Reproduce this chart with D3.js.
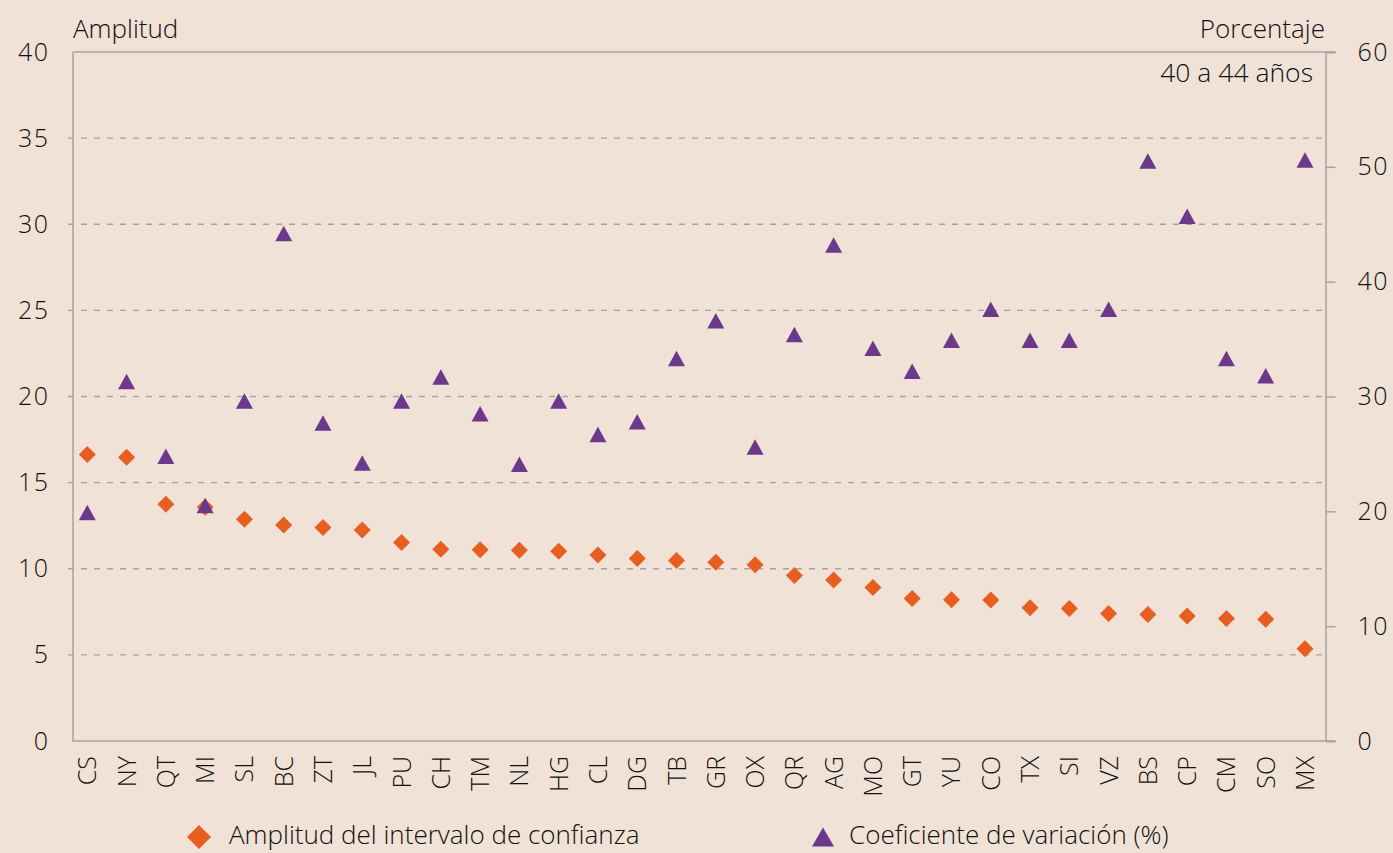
<!DOCTYPE html>
<html>
<head>
<meta charset="utf-8">
<script src="https://cdn.jsdelivr.net/npm/d3@7"></script>
<style>
  body { margin: 0; background: #f0e2d6; }
  text { font-family: "Open Sans", sans-serif; font-weight: 350; fill: #111; }
</style>
</head>
<body>
<div id="chart"></div>
<script>
// Entidades (orden del eje x)
const estados = ["CS","NY","QT","MI","SL","BC","ZT","JL","PU","CH","TM","NL","HG","CL","DG","TB",
                 "GR","OX","QR","AG","MO","GT","YU","CO","TX","SI","VZ","BS","CP","CM","SO","MX"];

// Amplitud del intervalo de confianza (eje izquierdo)
const amplitud = [16.63,16.47,13.75,13.57,12.87,12.54,12.39,12.25,11.53,11.13,11.11,11.08,11.01,10.80,10.60,10.48,
                  10.38,10.23,9.61,9.35,8.91,8.28,8.20,8.19,7.73,7.69,7.40,7.34,7.25,7.11,7.07,5.35];

// Coeficiente de variacion en porcentaje (eje derecho)
const coeficiente = [19.9,31.3,24.8,20.5,29.6,44.2,27.7,24.2,29.6,31.7,28.5,24.1,29.6,26.7,27.8,33.3,
                     36.6,25.6,35.4,43.2,34.2,32.2,34.9,37.6,34.9,34.9,37.6,50.5,45.7,33.3,31.8,50.6];

const ticksIzq = [0,5,10,15,20,25,30,35,40];
const ticksDer = [0,10,20,30,40,50,60];

const width = 1393, height = 853;
const margin = {top: 52, bottom: 741, left: 72.5, right: 1325.5};

const naranja = "#e85d20", morado = "#6b398c", gris = "#a3a3a3";

const svg = d3.select("#chart")
    .append("svg")
    .attr("width", width)
    .attr("height", height)
    .style("background", "#f0e2d6");

// Scales
const xScale = d3.scalePoint()
    .domain(estados)
    .range([87.3, 1305]);

const yLeft = d3.scaleLinear()
    .domain([0, 40])
    .range([margin.bottom, margin.top]);

const yRight = d3.scaleLinear()
    .domain([0, 60])
    .range([margin.bottom, margin.top]);

// Dashed gridlines
svg.append("g")
    .selectAll("line")
    .data(ticksIzq.filter(d => d > 0 && d < 40))
    .enter().append("line")
    .attr("x1", 68)
    .attr("x2", margin.right)
    .attr("y1", d => yLeft(d))
    .attr("y2", d => yLeft(d))
    .attr("stroke", gris)
    .attr("stroke-width", 1.4)
    .attr("stroke-dasharray", "6,7");

// Left axis
const leftAxis = svg.append("g")
    .attr("transform", `translate(${margin.left},0)`)
    .call(d3.axisLeft(yLeft).tickValues(ticksIzq).tickSize(0).tickPadding(23));

// Right axis
const rightAxis = svg.append("g")
    .attr("transform", `translate(${margin.right},0)`)
    .call(d3.axisRight(yRight).tickValues(ticksDer).tickSize(10).tickPadding(22));

[leftAxis, rightAxis].forEach(ax => {
    ax.select(".domain").attr("stroke", gris).attr("stroke-width", 1.5);
    ax.selectAll(".tick line").attr("stroke", gris).attr("stroke-width", 1.5);
    ax.selectAll(".tick text")
        .style("font-size", "25px")
        .style("font-family", "'Open Sans', sans-serif")
        .style("font-weight", 350)
        .style("letter-spacing", "1.5px")
        .attr("fill", "#111");
});

// Top and bottom frame lines
svg.append("line")
    .attr("x1", margin.left).attr("x2", margin.right + 10)
    .attr("y1", margin.top).attr("y2", margin.top)
    .attr("stroke", gris).attr("stroke-width", 1.5);

svg.append("line")
    .attr("x1", margin.left).attr("x2", margin.right + 10)
    .attr("y1", margin.bottom).attr("y2", margin.bottom)
    .attr("stroke", gris).attr("stroke-width", 1.5);

// X labels (rotated)
svg.append("g")
    .selectAll("text")
    .data(estados)
    .enter().append("text")
    .attr("transform", d => `translate(${xScale(d)},756) rotate(-90)`)
    .attr("dy", "0.36em")
    .style("text-anchor", "end")
    .style("font-size", "25px")
    .text(d => d);

// Marker shapes
const diamond = s => `M0,${-s}L${s},0L0,${s}L${-s},0Z`;
const triangle = (w, h) => `M0,${-h / 2}L${w / 2},${h / 2}L${-w / 2},${h / 2}Z`;

// Diamonds: amplitud
svg.append("g")
    .selectAll("path")
    .data(amplitud)
    .enter().append("path")
    .attr("d", diamond(8.5))
    .attr("transform", (d, i) => `translate(${xScale(estados[i])},${yLeft(d)})`)
    .attr("fill", naranja);

// Triangles: coeficiente de variacion
svg.append("g")
    .selectAll("path")
    .data(coeficiente)
    .enter().append("path")
    .attr("d", triangle(17, 15.5))
    .attr("transform", (d, i) => `translate(${xScale(estados[i])},${yRight(d)})`)
    .attr("fill", morado);

// Axis titles
svg.append("text")
    .attr("x", 73).attr("y", 38)
    .style("font-size", "26px")
    .text("Amplitud");

svg.append("text")
    .attr("x", 1325).attr("y", 38)
    .style("text-anchor", "end")
    .style("font-size", "26px")
    .text("Porcentaje");

svg.append("text")
    .attr("x", 1313).attr("y", 82)
    .style("text-anchor", "end")
    .style("font-size", "26.5px")
    .text("40 a 44 años");

// Legend
const legend = [
    {label: "Amplitud del intervalo de confianza", x: 199, tx: 229, shape: diamond(12), color: naranja},
    {label: "Coeficiente de variación (%)", x: 823, tx: 849, shape: triangle(22, 19), color: morado}
];

svg.selectAll("legendmarks")
    .data(legend)
    .enter().append("path")
    .attr("d", d => d.shape)
    .attr("transform", d => `translate(${d.x},837)`)
    .attr("fill", d => d.color);

svg.selectAll("legendlabels")
    .data(legend)
    .enter().append("text")
    .attr("x", d => d.tx)
    .attr("y", 844)
    .style("font-size", "26px")
    .text(d => d.label);
</script>
</body>
</html>
